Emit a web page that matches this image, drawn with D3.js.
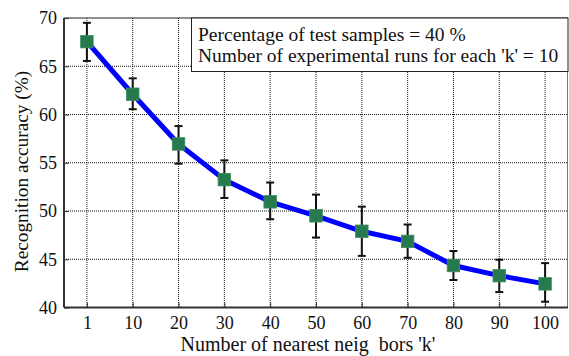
<!DOCTYPE html>
<html>
<head>
<meta charset="utf-8">
<script src="https://cdn.jsdelivr.net/npm/d3@7"></script>
<style>
  body { margin: 0; background: #fff; }
  text { font-family: "Liberation Serif", "Times New Roman", serif; fill: #111; }
</style>
</head>
<body>
<div id="chart"></div>
<script>
// values
const kLabels = ["1", "10", "20", "30", "40", "50", "60", "70", "80", "90", "100"];
const accuracy = [67.55, 62.1, 56.95, 53.25, 50.95, 49.5, 47.9, 46.85, 44.35, 43.3, 42.45];
const errTop = [69.5, 63.75, 58.8, 55.25, 52.95, 51.7, 50.45, 48.6, 45.85, 44.95, 44.6];
const errBottom = [65.55, 60.55, 54.9, 51.35, 49.15, 47.25, 45.35, 45.15, 42.85, 41.6, 40.6];
const yTicks = [40, 45, 50, 55, 60, 65, 70];
const legendLines = ["Percentage of test samples = 40 %", "Number of experimental runs for each 'k' = 10"];

const width = 569;
const height = 356;
const plot = { left: 64, right: 568, top: 18, bottom: 307.5 };

const svg = d3.select("#chart")
    .append("svg")
    .attr("width", width)
    .attr("height", height);

const x = d3.scalePoint()
    .domain(kLabels)
    .range([plot.left, plot.right])
    .padding(0.5);

const y = d3.scaleLinear()
    .domain([40, 70])
    .range([plot.bottom, plot.top]);

// dotted grid
const grid = svg.append("g")
    .attr("stroke", "#111")
    .attr("stroke-width", 1)
    .attr("stroke-dasharray", "1,1");

grid.selectAll("line.v")
    .data(kLabels)
    .enter().append("line")
    .attr("x1", d => x(d)).attr("x2", d => x(d))
    .attr("y1", plot.top).attr("y2", plot.bottom);

grid.selectAll("line.h")
    .data(yTicks.filter(t => t > 40 && t < 70))
    .enter().append("line")
    .attr("x1", plot.left).attr("x2", plot.right)
    .attr("y1", d => y(d)).attr("y2", d => y(d));

// frame
svg.append("line")
    .attr("x1", plot.left).attr("x2", plot.right)
    .attr("y1", plot.top).attr("y2", plot.top)
    .attr("stroke", "#222").attr("stroke-width", 1.2);
svg.append("line")
    .attr("x1", plot.right - 0.5).attr("x2", plot.right - 0.5)
    .attr("y1", plot.top).attr("y2", plot.bottom)
    .attr("stroke", "#777").attr("stroke-width", 1);

// axes
const yAxis = svg.append("g")
    .attr("transform", `translate(${plot.left},0)`)
    .call(d3.axisLeft(y).tickValues(yTicks).tickSize(-5).tickPadding(7));

const xAxis = svg.append("g")
    .attr("transform", `translate(0,${plot.bottom})`)
    .call(d3.axisBottom(x).tickSize(-5).tickPadding(9));

[xAxis, yAxis].forEach(ax => {
    ax.select(".domain").attr("stroke", "#333").attr("stroke-width", 2);
    ax.selectAll(".tick line").attr("stroke", "#333").attr("stroke-width", 1);
    ax.selectAll("text")
        .attr("font-size", 18)
        .attr("fill", "#111");
});
yAxis.select(".domain").attr("d", `M0,${plot.top}V${plot.bottom}`);
xAxis.select(".domain").attr("d", `M${plot.left},0H${plot.right}`);

// axis titles
svg.append("text")
    .attr("transform", "translate(28,171.5) rotate(-90)")
    .attr("text-anchor", "middle")
    .attr("font-size", 19.3)
    .text("Recognition accuracy (%)");

svg.append("text")
    .attr("x", 308)
    .attr("y", 351)
    .attr("text-anchor", "middle")
    .attr("font-size", 20)
    .attr("xml:space", "preserve")
    .text("Number of nearest neig  bors 'k'");

// blue line
const points = kLabels.map((k, i) => ({ k, v: accuracy[i], hi: errTop[i], lo: errBottom[i] }));

svg.append("path")
    .datum(points)
    .attr("fill", "none")
    .attr("stroke", "#0000ff")
    .attr("stroke-width", 5)
    .attr("stroke-linejoin", "round")
    .attr("d", d3.line().x(d => x(d.k)).y(d => y(d.v)));

// error bars
const err = svg.append("g")
    .attr("stroke", "#111")
    .attr("stroke-width", 2);

err.selectAll("line.bar")
    .data(points)
    .enter().append("line")
    .attr("x1", d => x(d.k)).attr("x2", d => x(d.k))
    .attr("y1", d => y(d.hi)).attr("y2", d => y(d.lo));

err.selectAll("line.capTop")
    .data(points)
    .enter().append("line")
    .attr("x1", d => x(d.k) - 4).attr("x2", d => x(d.k) + 4)
    .attr("y1", d => y(d.hi)).attr("y2", d => y(d.hi));

err.selectAll("line.capBottom")
    .data(points)
    .enter().append("line")
    .attr("x1", d => x(d.k) - 4).attr("x2", d => x(d.k) + 4)
    .attr("y1", d => y(d.lo)).attr("y2", d => y(d.lo));

// square markers
const size = 12.5;
svg.selectAll("rect.marker")
    .data(points)
    .enter().append("rect")
    .attr("x", d => x(d.k) - size / 2)
    .attr("y", d => y(d.v) - size / 2)
    .attr("width", size)
    .attr("height", size)
    .attr("fill", "#267a4e")
    .attr("stroke", "#3d8c62")
    .attr("stroke-width", 0.8);

// legend box
const legend = svg.append("g");
legend.append("rect")
    .attr("x", 191.5).attr("y", plot.top)
    .attr("width", plot.right - 191.5).attr("height", 53.5)
    .attr("fill", "#fff")
    .attr("stroke", "#222")
    .attr("stroke-width", 1);

legend.selectAll("text")
    .data(legendLines)
    .enter().append("text")
    .attr("x", 198)
    .attr("y", (d, i) => 40.5 + i * 21)
    .attr("font-size", 19.5)
    .text(d => d);
</script>
</body>
</html>
